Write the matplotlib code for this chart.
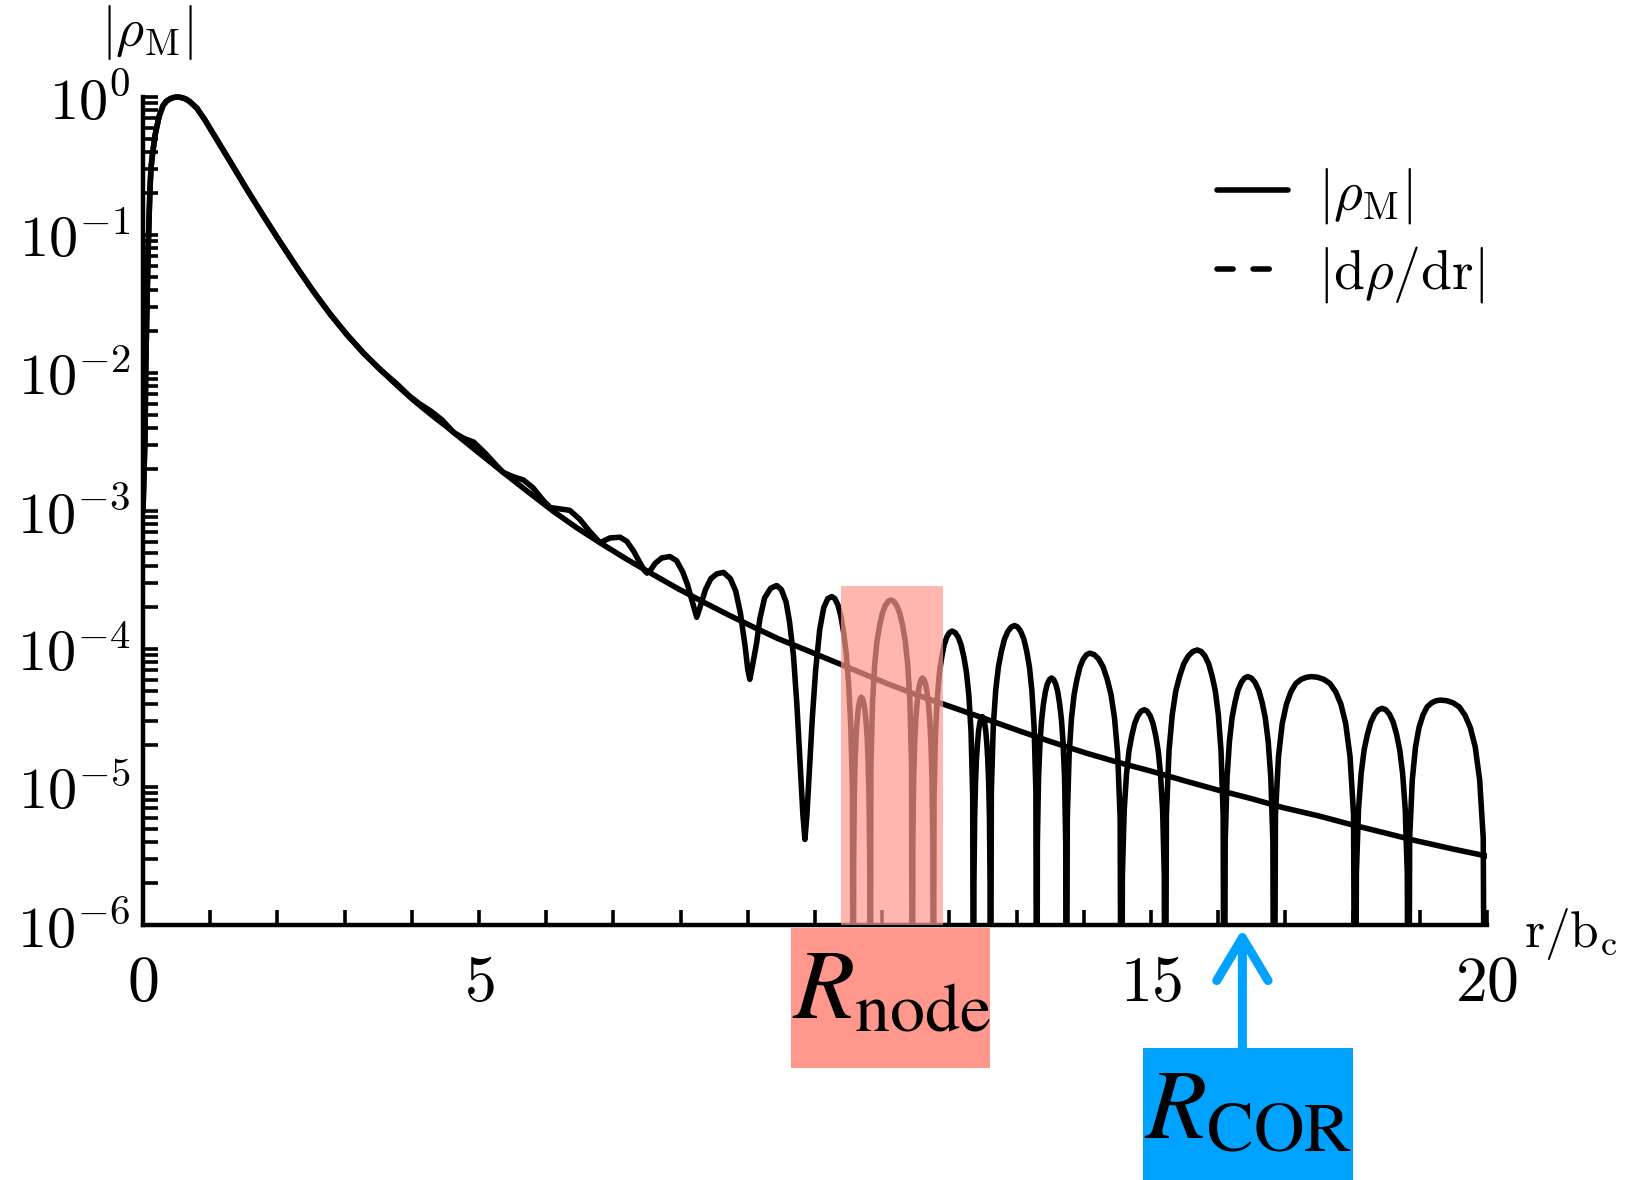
import numpy as np
import matplotlib
matplotlib.use("Agg")
import matplotlib.pyplot as plt
from matplotlib.lines import Line2D
from matplotlib.patches import Rectangle, FancyArrowPatch, ArrowStyle
from matplotlib.transforms import Bbox, TransformedBbox
from matplotlib.ticker import FixedLocator, FuncFormatter, LogLocator, NullFormatter

plt.rcParams['mathtext.fontset'] = 'cm'
plt.rcParams['font.family'] = ['DejaVu Serif']

# ---------------- data (y given as log10) ----------------
smooth_x = [0.0, 0.03, 0.04, 0.055, 0.07, 0.08, 0.09, 0.104, 0.12, 0.14, 0.18, 0.24, 0.30, 0.35,
            0.40, 0.45, 0.50, 0.55, 0.60, 0.65, 0.70, 0.80, 0.92,
            1.05, 1.30, 1.54, 1.79, 2.04, 2.29, 2.53, 2.78, 3.03, 3.28, 3.53, 3.78, 4.02,
            4.27, 4.52, 4.9, 5.36, 5.7, 6.1, 6.45, 6.85, 7.2, 7.59, 7.95, 8.34, 8.7, 9.08,
            9.45, 9.83, 10.5, 11.07, 11.5, 12.06, 12.5, 13.05, 13.5, 14.04, 14.5, 15.0, 15.5,
            15.98, 16.5, 16.97, 17.5, 17.96, 18.5, 18.95, 19.5, 19.99]
smooth_log = [-3.0, -2.45, -2.0, -1.6, -1.25, -1.05, -0.88, -0.66, -0.51, -0.42, -0.275, -0.14,
              -0.06, -0.03, -0.014, -0.004, 0.0, -0.002, -0.008, -0.018, -0.035, -0.08, -0.165,
              -0.27, -0.47, -0.665, -0.86, -1.05, -1.235, -1.405, -1.57, -1.72, -1.855, -1.975,
              -2.09, -2.195, -2.295, -2.39, -2.54, -2.72, -2.85, -3.0, -3.12, -3.245, -3.35,
              -3.46, -3.56, -3.66, -3.75, -3.84, -3.925, -4.0, -4.135, -4.25, -4.33, -4.425,
              -4.50, -4.595, -4.67, -4.755, -4.82, -4.885, -4.955, -5.02, -5.085, -5.15, -5.21,
              -5.27, -5.335, -5.39, -5.45, -5.50]

osc_x = [0.0, 0.03, 0.04, 0.055, 0.07, 0.08, 0.09, 0.104, 0.12, 0.14, 0.18, 0.24, 0.30, 0.35,
         0.40, 0.45, 0.50, 0.55, 0.60, 0.65, 0.70, 0.80, 0.92,
         1.05, 1.30, 1.54, 1.79, 2.04, 2.29, 2.53, 2.78, 3.03, 3.28, 3.53,
         3.78, 3.96, 4.12, 4.28, 4.45, 4.62, 4.78, 4.92, 5.10, 5.25, 5.36, 5.50, 5.66, 5.80,
         5.95, 6.06, 6.20, 6.35, 6.50, 6.65, 6.80, 6.95, 7.10, 7.20, 7.30, 7.40, 7.46, 7.50,
         7.55, 7.62, 7.72, 7.84, 7.94, 8.03, 8.10, 8.17, 8.24, 8.30, 8.37, 8.45, 8.54, 8.64,
         8.74, 8.82, 8.89, 8.96, 9.00, 9.03, 9.07, 9.13, 9.18, 9.25, 9.34, 9.43,
         9.50, 9.57, 9.62, 9.68, 9.73, 9.78, 9.82, 9.85, 9.88, 9.92, 9.96, 10.01, 10.07,
         10.13, 10.19, 10.25, 10.295, 10.34, 10.384, 10.426, 10.464, 10.50, 10.532, 10.557, 10.57,
         # arch B
         10.575, 10.584, 10.596, 10.610, 10.624, 10.640, 10.656, 10.673, 10.69,
         10.708, 10.726, 10.745, 10.762, 10.777, 10.791, 10.804, 10.815, 10.82,
         # arch C
         10.832, 10.857, 10.888, 10.922, 10.960, 11.000, 11.043, 11.087, 11.13,
         11.175, 11.220, 11.264, 11.306, 11.344, 11.380, 11.412, 11.437, 11.45,
         # arch D
         11.456, 11.468, 11.483, 11.500, 11.518, 11.537, 11.558, 11.579, 11.60,
         11.622, 11.645, 11.667, 11.688, 11.707, 11.725, 11.741, 11.754, 11.76,
         # arch E
         11.771, 11.794, 11.822, 11.852, 11.886, 11.922, 11.962, 12.001, 12.04,
         12.085, 12.130, 12.174, 12.216, 12.254, 12.290, 12.322, 12.347, 12.36,
         # arch F
         12.365, 12.376, 12.389, 12.403, 12.419, 12.435, 12.454, 12.472, 12.49,
         12.507, 12.524, 12.540, 12.556, 12.570, 12.584, 12.596, 12.605, 12.61,
         # arch G
         12.624, 12.653, 12.689, 12.729, 12.772, 12.819, 12.869, 12.920, 12.97,
         13.016, 13.062, 13.109, 13.152, 13.191, 13.227, 13.260, 13.287, 13.30,
         # arch H
         13.309, 13.326, 13.348, 13.373, 13.399, 13.428, 13.458, 13.489, 13.52,
         13.551, 13.582, 13.612, 13.641, 13.667, 13.692, 13.714, 13.731, 13.74,
         # arch I
         13.754, 13.782, 13.817, 13.856, 13.898, 13.943, 13.992, 14.041, 14.09,
         14.156, 14.222, 14.287, 14.349, 14.405, 14.457, 14.504, 14.541, 14.56,
         # arch J
         14.574, 14.601, 14.635, 14.672, 14.713, 14.757, 14.805, 14.852, 14.90,
         14.943, 14.987, 15.030, 15.071, 15.108, 15.142, 15.173, 15.198, 15.21,
         # arch K
         15.229, 15.268, 15.316, 15.368, 15.426, 15.488, 15.556, 15.623, 15.69,
         15.746, 15.802, 15.858, 15.910, 15.958, 16.002, 16.042, 16.074, 16.09,
         # arch L
         16.104, 16.132, 16.167, 16.206, 16.248, 16.293, 16.342, 16.391, 16.44,
         16.495, 16.549, 16.604, 16.655, 16.701, 16.744, 16.783, 16.814, 16.83,
         # arch M
         16.852, 16.897, 16.953, 17.015, 17.082, 17.155, 17.233, 17.312, 17.39,
         17.481, 17.572, 17.663, 17.748, 17.826, 17.897, 17.962, 18.014, 18.04,
         # arch N
         18.056, 18.088, 18.128, 18.172, 18.220, 18.272, 18.328, 18.384, 18.44,
         18.495, 18.549, 18.604, 18.655, 18.701, 18.744, 18.783, 18.814, 18.83,
         # arch P
         18.849, 18.888, 18.936, 18.988, 19.046, 19.108, 19.176, 19.243, 19.31,
         19.402, 19.495, 19.587, 19.673, 19.752, 19.825, 19.891, 19.944, 19.97]
osc_log = [-3.0, -2.45, -2.0, -1.6, -1.25, -1.05, -0.88, -0.66, -0.51, -0.42, -0.275, -0.14,
           -0.06, -0.03, -0.014, -0.004, 0.0, -0.002, -0.008, -0.018, -0.035, -0.08, -0.165,
           -0.27, -0.47, -0.665, -0.86, -1.05, -1.235, -1.405, -1.57, -1.72, -1.855, -1.975,
           -2.08, -2.165, -2.225, -2.275, -2.34, -2.43, -2.475, -2.50, -2.585, -2.665, -2.72,
           -2.75, -2.775, -2.83, -2.92, -2.975, -2.985, -2.995, -3.06, -3.15, -3.23, -3.195,
           -3.19, -3.22, -3.29, -3.38, -3.43, -3.45,
           -3.43, -3.38, -3.34, -3.33, -3.36, -3.44, -3.53, -3.65, -3.77, -3.68, -3.57, -3.49,
           -3.455, -3.445, -3.49, -3.58, -3.74, -3.98, -4.15, -4.22, -4.12, -3.96, -3.78, -3.63,
           -3.56, -3.54,
           -3.57, -3.66, -3.80, -4.05, -4.40, -4.85, -5.20, -5.38, -5.20, -4.85, -4.50, -4.15,
           -3.86, -3.70, -3.635, -3.62, -3.635, -3.68, -3.76, -3.88, -4.03, -4.25, -4.55, -5.0, -8.0,
           # arch B
           -5.55, -5.08, -4.82, -4.65, -4.54, -4.45, -4.393, -4.361, -4.35,
           -4.361, -4.393, -4.45, -4.54, -4.65, -4.82, -5.08, -5.55, -8.0,
           # arch C
           -4.845, -4.375, -4.115, -3.945, -3.835, -3.745, -3.688, -3.656, -3.645,
           -3.656, -3.688, -3.745, -3.835, -3.945, -4.115, -4.375, -4.845, -8.0,
           # arch D
           -5.41, -4.94, -4.68, -4.51, -4.40, -4.31, -4.253, -4.221, -4.21,
           -4.221, -4.253, -4.31, -4.40, -4.51, -4.68, -4.94, -5.41, -8.0,
           # arch E
           -5.07, -4.60, -4.34, -4.17, -4.06, -3.97, -3.913, -3.881, -3.87,
           -3.881, -3.913, -3.97, -4.06, -4.17, -4.34, -4.60, -5.07, -8.0,
           # arch F
           -5.69, -5.22, -4.96, -4.79, -4.68, -4.59, -4.533, -4.501, -4.49,
           -4.501, -4.533, -4.59, -4.68, -4.79, -4.96, -5.22, -5.69, -8.0,
           # arch G
           -5.03, -4.56, -4.30, -4.13, -4.02, -3.93, -3.873, -3.841, -3.83,
           -3.841, -3.873, -3.93, -4.02, -4.13, -4.30, -4.56, -5.03, -8.0,
           # arch H
           -5.41, -4.94, -4.68, -4.51, -4.40, -4.31, -4.253, -4.221, -4.21,
           -4.221, -4.253, -4.31, -4.40, -4.51, -4.68, -4.94, -5.41, -8.0,
           # arch I
           -5.23, -4.76, -4.50, -4.33, -4.22, -4.13, -4.073, -4.041, -4.03,
           -4.041, -4.073, -4.13, -4.22, -4.33, -4.50, -4.76, -5.23, -8.0,
           # arch J
           -5.64, -5.17, -4.91, -4.74, -4.63, -4.54, -4.483, -4.451, -4.44,
           -4.451, -4.483, -4.54, -4.63, -4.74, -4.91, -5.17, -5.64, -8.0,
           # arch K
           -5.207, -4.737, -4.477, -4.307, -4.197, -4.107, -4.05, -4.018, -4.007,
           -4.018, -4.05, -4.107, -4.197, -4.307, -4.477, -4.737, -5.207, -8.0,
           # arch L
           -5.40, -4.93, -4.67, -4.50, -4.39, -4.30, -4.243, -4.211, -4.20,
           -4.211, -4.243, -4.30, -4.39, -4.50, -4.67, -4.93, -5.40, -8.0,
           # arch M
           -5.20, -4.78, -4.54, -4.40, -4.31, -4.25, -4.22, -4.205, -4.20,
           -4.205, -4.22, -4.25, -4.31, -4.40, -4.54, -4.78, -5.20, -8.0,
           # arch N
           -5.63, -5.16, -4.90, -4.73, -4.62, -4.53, -4.473, -4.441, -4.43,
           -4.441, -4.473, -4.53, -4.62, -4.73, -4.90, -5.16, -5.63, -8.0,
           # arch P
           -5.37, -4.95, -4.71, -4.57, -4.48, -4.42, -4.39, -4.375, -4.37,
           -4.375, -4.39, -4.42, -4.48, -4.57, -4.71, -4.95, -5.37, -8.0]

x_major_ticks = [0, 5, 10, 15, 20]
x_tick_labels = ['$0$', '$5$', '', '$15$', '$20$']
y_major_exps = [-6, -5, -4, -3, -2, -1, 0]
legend_labels = [r'$|\rho_\mathrm{M}|$', r'$|\mathrm{d}\rho/\mathrm{dr}|$']
node_span = (10.38, 11.90)
node_span_top_log = -3.543
cor_position = 16.36

# ---------------- figure ----------------
W, H = 1629, 1180
fig = plt.figure(figsize=(W / 100, H / 100), dpi=100)
ax = fig.add_axes([143 / W, 1 - 925 / H, (1487 - 143) / W, (925 - 97) / H])

lw = 4.0
# clip at the bottom/sides of the axes, but let the peak near 10^0 show its full line width
clip = TransformedBbox(Bbox([[0, 0], [1, 1.03]]), ax.transAxes)
for xs, ls_ in [(smooth_x, smooth_log), (osc_x, osc_log)]:
    ln, = ax.plot(xs, 10.0 ** np.array(ls_), color='k', lw=lw,
                  solid_joinstyle='round', solid_capstyle='round', zorder=2)
    ln.set_clip_box(clip)

ax.set_yscale('log')
ax.set_xlim(0, 20)
ax.set_ylim(1e-6, 1e0)

for s in ['top', 'right']:
    ax.spines[s].set_visible(False)
for s in ['left', 'bottom']:
    ax.spines[s].set_linewidth(3.2)

ax.xaxis.set_major_locator(FixedLocator(x_major_ticks))
ax.xaxis.set_minor_locator(FixedLocator([i for i in range(21) if i % 5]))
ax.set_xticklabels(x_tick_labels)
ax.yaxis.set_major_locator(FixedLocator([10.0 ** e for e in y_major_exps]))
ax.yaxis.set_minor_locator(LogLocator(base=10, subs=np.arange(2, 10), numticks=20))
ax.yaxis.set_major_formatter(FuncFormatter(lambda v, p: r'$10^{%d}$' % int(round(np.log10(v)))))
ax.yaxis.set_minor_formatter(NullFormatter())

ax.tick_params(which='both', direction='in', length=11, width=2.6, top=False, right=False)
ax.tick_params(axis='x', which='major', labelsize=46, pad=20)
ax.tick_params(axis='y', which='major', labelsize=42, pad=9)

# node highlight over the curves
ax.add_patch(Rectangle((node_span[0], 1e-6), node_span[1] - node_span[0],
                       10.0 ** node_span_top_log - 1e-6, facecolor='#FF978D',
                       edgecolor='none', alpha=0.7, zorder=3, clip_on=False))

# axis labels
fig.text(101 / W, 1 - 62 / H, r'$|\rho_\mathrm{M}|$', fontsize=39, ha='left', va='bottom')
fig.text(1524 / W, 1 - 947 / H, r'$\mathrm{r/b_c}$', fontsize=37, ha='left', va='baseline')

# legend
handles = [Line2D([], [], color='k', lw=lw, solid_capstyle='round'),
           Line2D([], [], color='k', lw=lw, ls=(0, (2.9, 3.6)), dash_capstyle='round')]
fig.legend(handles, legend_labels, loc='upper left', bbox_to_anchor=(1217 / W, 1 - 166 / H),
           frameon=False, fontsize=40, borderpad=0, borderaxespad=0, handlelength=1.27,
           handletextpad=0.55, labelspacing=0.33)

# R_node label box
fig.patches.append(Rectangle((791 / W, 1 - 1068 / H), (990 - 791) / W, (1068 - 928) / H,
                             transform=fig.transFigure, facecolor='#FF978D', edgecolor='none'))
fig.text(792 / W, 1 - 1018 / H, r'$R_\mathrm{node}$', fontsize=72, ha='left', va='baseline',
         math_fontfamily='stix')

# R_COR label box and arrow
blue = '#00A2FF'
fig.patches.append(Rectangle((1143 / W, 0), (1353 - 1143) / W, (H - 1048) / H,
                             transform=fig.transFigure, facecolor=blue, edgecolor='none'))
fig.text(1144 / W, 1 - 1138 / H, r'$R_\mathrm{COR}$', fontsize=72, ha='left', va='baseline',
         math_fontfamily='stix')
arrow_x = ax.transData.transform((cor_position, 1e-6))[0] / W
arrow = FancyArrowPatch((arrow_x, 1 - 1048 / H), (arrow_x, 1 - 929 / H),
                        transform=fig.transFigure,
                        arrowstyle=ArrowStyle('->', head_length=0.4, head_width=0.24),
                        mutation_scale=77, lw=6.5, color=blue, shrinkA=0, shrinkB=0)
fig.patches.append(arrow)

fig.savefig('out.png', dpi=100)
